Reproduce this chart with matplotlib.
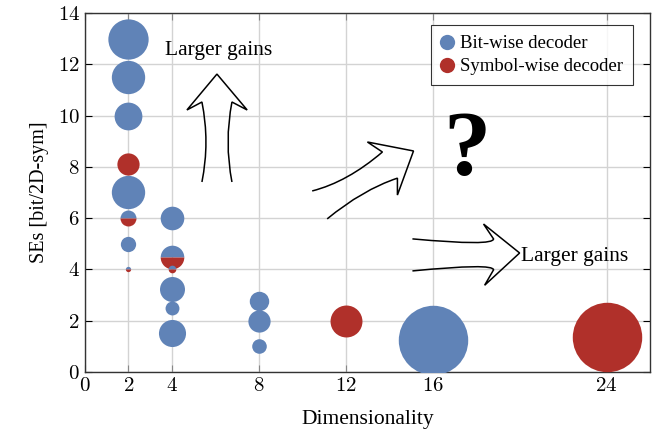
import matplotlib.pyplot as plt
from matplotlib.path import Path
from matplotlib.patches import PathPatch
import numpy as np

plt.rcParams['font.family'] = ['Liberation Serif', 'DejaVu Serif']
plt.rcParams['mathtext.fontset'] = 'cm'

blue = '#6083b7'
red = '#b0302a'

# bit-wise decoder schemes: dimensionality, SE, bubble diameter (pt)
bit_dim = [2, 2, 2, 2, 2, 4, 4, 4, 4, 8, 8, 8, 16]
bit_se = [13, 11.5, 10, 7, 5, 6, 3.25, 2.5, 1.5, 2.75, 2, 1, 1.25]
bit_size = [29, 24, 20, 24, 11, 17, 18, 10, 19.5, 14, 16, 10.5, 50]

# symbol-wise decoder schemes
sym_dim = [2, 12, 24]
sym_se = [8.1, 2, 1.35]
sym_size = [16, 23, 50]

# schemes reported with both decoders (split markers)
both_dim = [2, 2, 4, 4]
both_se = [6, 4, 4.5, 4]
both_size = [11.5, 3.8, 17, 5.5]

xticks = [0, 2, 4, 8, 12, 16, 24]
yticks = [0, 2, 4, 6, 8, 10, 12, 14]

fig = plt.figure(figsize=(6.62, 4.36), dpi=100)
ax = fig.add_axes([0.128, 0.147, 0.854, 0.823])

for x, y, s in zip(bit_dim, bit_se, bit_size):
    ax.plot(x, y, 'o', ms=s, color=blue, mec='none', zorder=3)
for x, y, s in zip(sym_dim, sym_se, sym_size):
    ax.plot(x, y, 'o', ms=s, color=red, mec='none', zorder=3)
for x, y, s in zip(both_dim, both_se, both_size):
    ax.plot(x, y, 'o', ms=s, fillstyle='top', markerfacecolor=blue,
            markerfacecoloralt=red, mec='none', zorder=3)

ax.plot([], [], 'o', ms=11, color=blue, mec='none', label='Bit-wise decoder')
ax.plot([], [], 'o', ms=11, color=red, mec='none', label='Symbol-wise decoder')

ax.set_xlim(0, 26)
ax.set_ylim(0, 14)
ax.set_xticks(xticks)
ax.set_yticks(yticks)
ax.set_xticklabels([f'${t}$' for t in xticks], fontsize=15)
ax.set_yticklabels([f'${t}$' for t in yticks], fontsize=15)
ax.tick_params(direction='in', length=5, top=True, right=True, width=0.8)
ax.tick_params(axis='x', colors='#888888', labelcolor='black')
ax.grid(True, color='#d3d3d3', lw=1.0, zorder=0)
ax.set_axisbelow(True)
for sp in ax.spines.values():
    sp.set_color('#333333')
    sp.set_linewidth(1.0)

ax.set_xlabel('Dimensionality', fontsize=15.5, labelpad=10)
ax.set_ylabel('SEs [bit/2D-sym]', fontsize=14.5, labelpad=6)

leg = ax.legend(loc='upper right', bbox_to_anchor=(0.970, 0.967), borderaxespad=0,
                fontsize=13.5, frameon=True, fancybox=False, handlelength=0.6,
                handletextpad=0.4, borderpad=0.55, labelspacing=0.3)
leg.get_frame().set_edgecolor('black')
leg.get_frame().set_linewidth(0.8)


def outline(verts, codes):
    ax.add_patch(PathPatch(Path(verts, codes), fc='none', ec='black', lw=1.1, zorder=4))


M, L, C = Path.MOVETO, Path.LINETO, Path.CURVE3

# upward arrow
outline([(5.39, 7.41), (5.76, 8.97), (5.39, 10.53), (4.70, 10.22), (6.08, 11.62),
         (7.47, 10.22), (6.77, 10.53), (6.41, 8.97), (6.77, 7.41)],
        [M, C, C, L, L, L, L, C, C])

# diagonal arrow
outline([(10.46, 7.06), (12.08, 7.41), (13.69, 8.58), (13.0, 8.97), (15.12, 8.62),
         (14.38, 6.90), (14.38, 7.56), (12.76, 7.10), (11.15, 5.97)],
        [M, C, C, L, L, L, L, C, C])

# rightward arrow
outline([(15.07, 5.19), (18.8, 4.90), (18.8, 5.19), (18.34, 5.77), (20.0, 4.64),
         (18.39, 3.38), (18.80, 3.98), (18.8, 4.25), (15.07, 3.94)],
        [M, C, C, L, L, L, L, C, C])

ax.text(20.05, 4.5, 'Larger gains', fontsize=15.5, va='center', ha='left', zorder=5)
ax.text(3.7, 12.55, 'Larger gains', fontsize=15.5, va='center', ha='left', zorder=5)
ax.text(17.6, 8.55, '?', fontsize=68, fontweight='bold', va='center', ha='center', zorder=5)

fig.savefig('out.png', dpi=100)
